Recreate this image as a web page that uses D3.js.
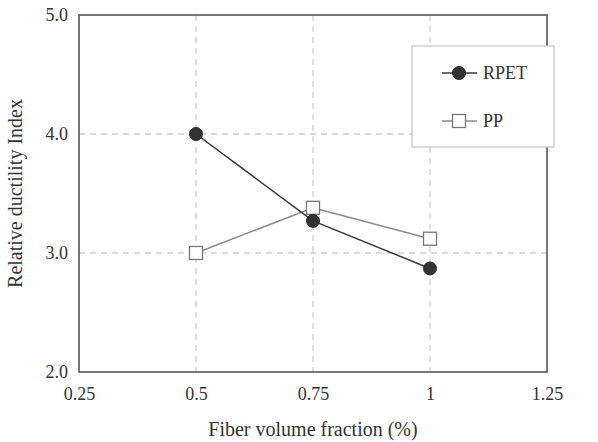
<!DOCTYPE html>
<html>
    <head>
        <meta charset="UTF-8">
        <script type="text/javascript" src="https://cdn.jsdelivr.net/npm/d3@7"></script>
        <style>
            body { margin: 0; background: #fff; }
            text { font-family: "Liberation Serif", "DejaVu Serif", serif; fill: #333; }
        </style>
    </head>
    <body>
        <script type="text/javascript">
            var fraction = [0.5, 0.75, 1];
            var rpet = [4.0, 3.27, 2.87];
            var pp = [3.0, 3.38, 3.12];
            var xTicks = [0.25, 0.5, 0.75, 1, 1.25];
            var yTicks = [2.0, 3.0, 4.0, 5.0];

            var w = 598, h = 442;
            var pLeft = 79, pRight = 547, pTop = 15, pBottom = 372;

            var svg = d3.select("body").append("svg")
                    .attr("width", w)
                    .attr("height", h);

            var x = d3.scaleLinear().domain([0.25, 1.25]).range([pLeft, pRight]);
            var y = d3.scaleLinear().domain([2, 5]).range([pBottom, pTop]);

            // grid
            svg.append("g").selectAll("line")
                    .data(xTicks.slice(1, -1))
                    .enter().append("line")
                    .attr("x1", function(d) { return x(d); })
                    .attr("x2", function(d) { return x(d); })
                    .attr("y1", pTop)
                    .attr("y2", pBottom)
                    .style("stroke", "#d0d0d0")
                    .style("stroke-width", 1.3)
                    .style("stroke-dasharray", "6,5");
            svg.append("g").selectAll("line")
                    .data(yTicks.slice(1, -1))
                    .enter().append("line")
                    .attr("x1", pLeft)
                    .attr("x2", pRight)
                    .attr("y1", function(d) { return y(d); })
                    .attr("y2", function(d) { return y(d); })
                    .style("stroke", "#d0d0d0")
                    .style("stroke-width", 1.3)
                    .style("stroke-dasharray", "6,5");

            // tick labels via d3 axes
            svg.append("g")
                    .attr("transform", "translate(0," + pBottom + ")")
                    .call(d3.axisBottom(x).tickValues(xTicks).tickSize(0).tickPadding(15)
                        .tickFormat(function(d) { return String(d); }));
            svg.append("g")
                    .attr("transform", "translate(" + pLeft + ",0)")
                    .call(d3.axisLeft(y).tickValues(yTicks).tickSize(0).tickPadding(11)
                        .tickFormat(d3.format(".1f")));
            svg.selectAll(".domain").remove();
            svg.selectAll(".tick text")
                    .style("font-family", "'Liberation Serif', serif")
                    .style("font-size", "18px")
                    .style("fill", "#333");

            // frame
            svg.append("rect")
                    .attr("x", pLeft)
                    .attr("y", pTop)
                    .attr("width", pRight - pLeft)
                    .attr("height", pBottom - pTop)
                    .style("fill", "none")
                    .style("stroke", "#555")
                    .style("stroke-width", 1.6);

            // legend
            var lg = svg.append("g");
            lg.append("rect")
                    .attr("x", 412).attr("y", 46)
                    .attr("width", 142).attr("height", 101)
                    .style("fill", "#fff")
                    .style("stroke", "#c8c8c8")
                    .style("stroke-width", 1.3);

            var line = d3.line()
                    .x(function(d) { return x(d[0]); })
                    .y(function(d) { return y(d[1]); });

            var series = [
                {name: "RPET", vals: rpet, color: "#3a3a3a", fill: "#333", shape: "circle"},
                {name: "PP", vals: pp, color: "#8a8a8a", fill: "#fff", shape: "square"}
            ];

            function marker(g, cx, cy, s) {
                if (s.shape === "circle") {
                    g.append("circle").attr("cx", cx).attr("cy", cy).attr("r", 6.5)
                            .style("fill", s.fill).style("stroke", "#2a2a2a").style("stroke-width", 1);
                } else {
                    g.append("rect").attr("x", cx - 6.5).attr("y", cy - 6.5)
                            .attr("width", 13).attr("height", 13)
                            .style("fill", s.fill).style("stroke", "#777").style("stroke-width", 1.3);
                }
            }

            // PP first, RPET drawn over it
            [series[1], series[0]].forEach(function(s) {
                var pts = fraction.map(function(f, i) { return [f, s.vals[i]]; });
                svg.append("path")
                        .datum(pts)
                        .attr("d", line)
                        .style("fill", "none")
                        .style("stroke", s.color)
                        .style("stroke-width", 1.5);
                var g = svg.append("g");
                pts.forEach(function(p) { marker(g, x(p[0]), y(p[1]), s); });
            });

            series.forEach(function(s, i) {
                var ly = 73 + i * 48;
                lg.append("line").attr("x1", 442).attr("x2", 477).attr("y1", ly).attr("y2", ly)
                        .style("stroke", s.color).style("stroke-width", 1.5);
                marker(lg, 459, ly, s);
                lg.append("text").attr("x", 483).attr("y", ly + 6)
                        .style("font-size", "18px")
                        .text(s.name);
            });

            // axis titles
            svg.append("text")
                    .attr("x", (pLeft + pRight) / 2)
                    .attr("y", 436)
                    .attr("text-anchor", "middle")
                    .style("font-size", "20px")
                    .text("Fiber volume fraction (%)");
            svg.append("text")
                    .attr("transform", "translate(22," + ((pTop + pBottom) / 2) + ") rotate(-90)")
                    .attr("text-anchor", "middle")
                    .style("font-size", "20px")
                    .text("Relative ductility Index");
        </script>
    </body>
</html>
